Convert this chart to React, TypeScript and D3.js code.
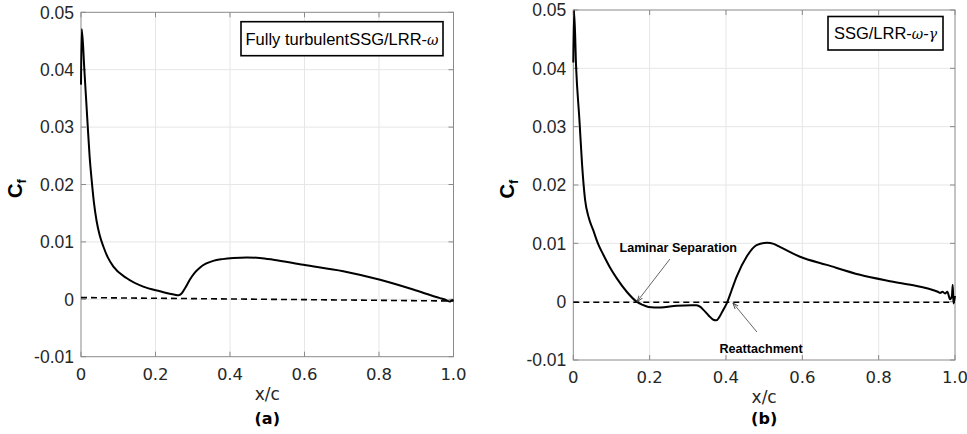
import React from "react";
import * as d3 from "d3";

// Panel (a): Fully turbulent SSG/LRR-ω
const xA = [0, 0.002, 0.009, 0.017, 0.023, 0.029, 0.035, 0.042, 0.05, 0.06, 0.072, 0.087, 0.122, 0.167, 0.212, 0.252, 0.262, 0.27, 0.28, 0.292, 0.305, 0.319, 0.335, 0.355, 0.38, 0.409, 0.445, 0.48, 0.516, 0.597, 0.704, 0.803, 0.892, 0.964, 0.975, 0.982, 0.99, 0.995, 1.0];
const cfA = [0.0374, 0.0471, 0.04, 0.0313, 0.025, 0.0205, 0.0167, 0.0136, 0.0112, 0.0092, 0.0073, 0.0057, 0.0037, 0.0022, 0.0014, 0.0008, 0.0007, 0.001, 0.002, 0.0034, 0.0046, 0.0055, 0.0062, 0.0067, 0.007, 0.0072, 0.0073, 0.0072, 0.0069, 0.006, 0.0049, 0.0034, 0.0017, 0.0002, 0.0, -0.0002, -0.0004, -0.0002, -0.0001];
const refXA = [0, 1];
const refCfA = [0.0003, -0.0003];

// Panel (b): SSG/LRR-ω-γ
const xB = [0, 0.002, 0.0075, 0.016, 0.023, 0.031, 0.04, 0.052, 0.065, 0.079, 0.095, 0.114, 0.14, 0.166, 0.18, 0.197, 0.227, 0.271, 0.31, 0.323, 0.333, 0.341, 0.355, 0.367, 0.375, 0.382, 0.392, 0.402, 0.415, 0.428, 0.454, 0.48, 0.507, 0.525, 0.541, 0.594, 0.664, 0.751, 0.838, 0.926, 0.955, 0.961, 0.967, 0.974, 0.98, 0.987, 0.992, 0.994, 0.996, 1.0];
const cfB = [0.041, 0.0499, 0.04, 0.0312, 0.0235, 0.0174, 0.0145, 0.0123, 0.0099, 0.008, 0.006, 0.004, 0.0017, 0.0, -0.0005, -0.0009, -0.001, -0.0007, -0.0006, -0.0006, -0.0009, -0.0014, -0.0024, -0.0031, -0.0032, -0.0027, -0.0015, -0.0003, 0.002, 0.0043, 0.0077, 0.0097, 0.0101, 0.0099, 0.0094, 0.0077, 0.0063, 0.0046, 0.0034, 0.0023, 0.0017, 0.0015, 0.0017, 0.0014, 0.0017, 0.0004, 0.001, 0.0029, -0.0003, 0.001];
const refXB = [0, 1];
const refCfB = [-0.0001, -0.0001];

const xTicks = [0, 0.2, 0.4, 0.6, 0.8, 1.0];
const xTickLabels = ["0", "0.2", "0.4", "0.6", "0.8", "1.0"];
const yTicks = [-0.01, 0, 0.01, 0.02, 0.03, 0.04, 0.05];
const yTickLabels = ["-0.01", "0", "0.01", "0.02", "0.03", "0.04", "0.05"];

const FRAME = "#8a8a8a";
const GRID = "#e6e6e6";

type Ann = { text: string; tx: number; ty: number; x1: number; y1: number; x2: number; y2: number };

type PanelProps = {
  left: number; right: number; top: number; bottom: number;
  xs: number[]; ys: number[]; rx: number[]; ry: number[];
  tag: string; legendMain: string; legendGreek: React.ReactNode;
  box: { x: number; y: number; w: number; h: number };
  anns: Ann[];
};

function Panel(p: PanelProps) {
  const x = d3.scaleLinear().domain([0, 1]).range([p.left, p.right]);
  const y = d3.scaleLinear().domain([-0.01, 0.05]).range([p.bottom, p.top]);
  const line = d3.line<number>().x((_, i) => x(p.xs[i])).y((d) => y(d)).curve(d3.curveMonotoneX);
  const ref = d3.line<number>().x((_, i) => x(p.rx[i])).y((d) => y(d));
  const midY = (p.top + p.bottom) / 2;
  const midX = (p.left + p.right) / 2;
  const tl = 5;
  const markerId = "arr" + p.tag;
  return (
    <g>
      <defs>
        <marker id={markerId} viewBox="0 0 10 10" refX="10" refY="5" markerWidth="7" markerHeight="7" orient="auto-start-reverse">
          <path d="M0,1.5 L10,5 L0,8.5" fill="none" stroke="#444" strokeWidth="1.4" />
        </marker>
      </defs>
      {xTicks.slice(1, -1).map((t) => (
        <line key={"gx" + t} x1={x(t)} x2={x(t)} y1={p.top} y2={p.bottom} stroke={GRID} strokeWidth={1} />
      ))}
      {yTicks.slice(1, -1).map((t) => (
        <line key={"gy" + t} x1={p.left} x2={p.right} y1={y(t)} y2={y(t)} stroke={GRID} strokeWidth={1} />
      ))}
      <rect x={p.left} y={p.top} width={p.right - p.left} height={p.bottom - p.top} fill="none" stroke={FRAME} strokeWidth={1} />
      {xTicks.map((t) => (
        <g key={"tx" + t}>
          <line x1={x(t)} x2={x(t)} y1={p.bottom} y2={p.bottom - tl} stroke={FRAME} />
          <line x1={x(t)} x2={x(t)} y1={p.top} y2={p.top + tl} stroke={FRAME} />
        </g>
      ))}
      {yTicks.map((t) => (
        <g key={"ty" + t}>
          <line x1={p.left} x2={p.left + tl} y1={y(t)} y2={y(t)} stroke={FRAME} />
          <line x1={p.right} x2={p.right - tl} y1={y(t)} y2={y(t)} stroke={FRAME} />
        </g>
      ))}
      {xTicks.map((t, i) => (
        <text key={"lx" + t} x={x(t)} y={p.bottom + 23} textAnchor="middle" fontFamily="DejaVu Sans" fontSize={16.5} fill="#262626">
          {xTickLabels[i]}
        </text>
      ))}
      {yTicks.map((t, i) => (
        <text key={"ly" + t} x={p.left - 7} y={y(t)} dy="0.36em" textAnchor="end" fontFamily="Liberation Sans, Arial" fontSize={17.5} fill="#262626">
          {yTickLabels[i]}
        </text>
      ))}
      <text x={midX} y={p.bottom + 43} textAnchor="middle" fontFamily="DejaVu Sans" fontSize={17} fill="#262626">x/c</text>
      <text x={midX} y={424} textAnchor="middle" fontFamily="DejaVu Sans" fontWeight="bold" fontSize={16} fill="#000">({p.tag})</text>
      <text transform={`translate(${p.left - 59},${midY + 4}) rotate(-90)`} textAnchor="middle" fontFamily="Liberation Sans, Arial" fontWeight="bold" fontSize={20} fill="#000">
        C<tspan fontSize={13} dy={4}>f</tspan>
      </text>
      <path d={ref(p.ry) || ""} fill="none" stroke="#000" strokeWidth={1.6} strokeDasharray="6,4" />
      <path d={line(p.ys) || ""} fill="none" stroke="#000" strokeWidth={2} />
      <rect x={p.box.x} y={p.box.y} width={p.box.w} height={p.box.h} fill="#fff" stroke="#000" strokeWidth={1.6} />
      <text x={p.box.x + p.box.w / 2} y={p.box.y + p.box.h / 2} dy="0.36em" textAnchor="middle" fontFamily="Liberation Sans, Arial" fontSize={16.5} fill="#000">
        {p.legendMain}
        {p.legendGreek}
      </text>
      {p.anns.map((a, i) => (
        <g key={"ann" + i}>
          <line x1={x(a.x1)} y1={y(a.y1)} x2={x(a.x2)} y2={y(a.y2)} stroke="#555" strokeWidth={0.9} markerEnd={`url(#${markerId})`} />
          <text x={x(a.tx)} y={y(a.ty)} textAnchor="middle" fontFamily="Liberation Sans, Arial" fontWeight="bold" fontSize={12.6} fill="#000">{a.text}</text>
        </g>
      ))}
    </g>
  );
}

const greekStyle = { fontFamily: "DejaVu Serif, Liberation Serif", fontStyle: "italic" as const, fontSize: 14 };

export default function App() {
  return (
    <svg width={967} height={434} style={{ position: "absolute", left: 0, top: 0, background: "#fff" }}>
      <rect width={967} height={434} fill="#fff" />
      <Panel
        left={81} right={453.5} top={12.3} bottom={356.7}
        xs={xA} ys={cfA} rx={refXA} ry={refCfA}
        tag="a" legendMain="Fully turbulentSSG/LRR-"
        legendGreek={<tspan style={greekStyle}>ω</tspan>}
        box={{ x: 241, y: 21.7, w: 202, h: 34 }}
        anns={[]}
      />
      <Panel
        left={573.3} right={955} top={10} bottom={360}
        xs={xB} ys={cfB} rx={refXB} ry={refCfB}
        tag="b" legendMain="SSG/LRR-"
        legendGreek={<><tspan style={greekStyle}>ω</tspan><tspan>-</tspan><tspan style={greekStyle}>γ</tspan></>}
        box={{ x: 828, y: 16.5, w: 115, h: 33.5 }}
        anns={[
          { text: "Laminar Separation", tx: 0.275, ty: 0.0085, x1: 0.253, y1: 0.0073, x2: 0.167, y2: 0.0 },
          { text: "Reattachment", tx: 0.492, ty: -0.0088, x1: 0.481, y1: -0.0052, x2: 0.418, y2: -0.0002 },
        ]}
      />
    </svg>
  );
}
